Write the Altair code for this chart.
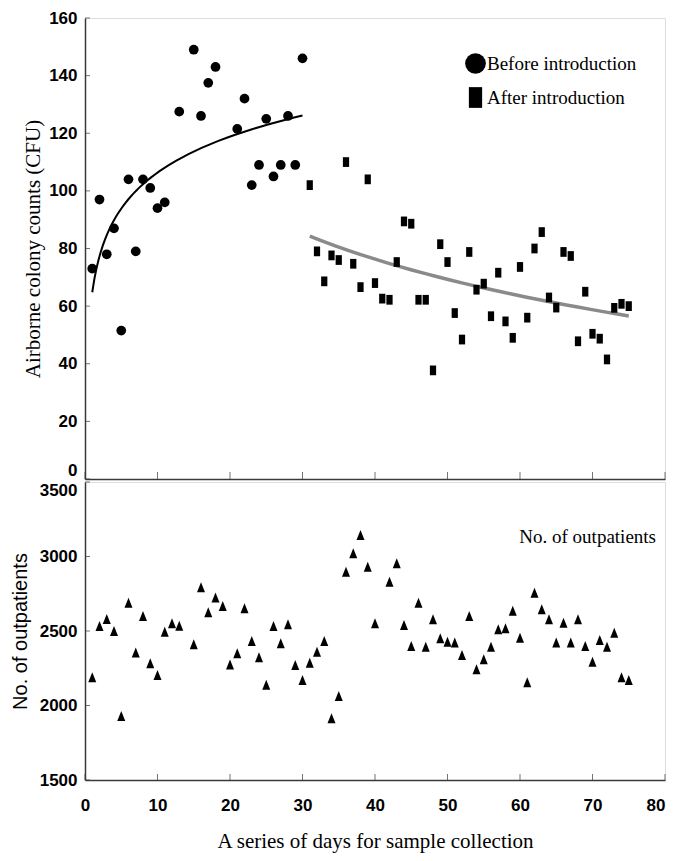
import altair as alt
import pandas as pd

# ---------------- data ----------------
BEFORE_DAYS = [1, 2, 3, 4, 5, 6, 7, 8, 9, 10, 11, 13, 15, 16, 17, 18,
               21, 22, 23, 24, 25, 26, 27, 28, 29, 30]
BEFORE_CFU = [73, 97, 78, 87, 51.5, 104, 79, 104, 101, 94, 96, 127.5, 149, 126, 137.5, 143,
              121.5, 132, 102, 109, 125, 105, 109, 126, 109, 146]

AFTER_DAYS = [31, 32, 33, 34, 35, 36, 37, 38, 39, 40, 41, 42, 43, 44, 45,
              46, 47, 48, 49, 50, 51, 52, 53, 54, 55, 56, 57, 58, 59, 60,
              61, 62, 63, 64, 65, 66, 67, 68, 69, 70, 71, 72, 73, 74, 75]
AFTER_CFU = [102, 79, 68.6, 77.6, 76, 110, 74.7, 66.6, 104, 68,
             62.6, 62.2, 75.3, 89.4, 88.6, 62.2, 62.2, 37.7, 81.5, 75.3,
             57.6, 48.4, 78.8, 65.7, 67.8, 56.5, 71.6, 54.7, 49, 73.6,
             56, 80, 85.7, 63, 59.5, 78.8, 77.4, 47.8, 65, 50.4,
             48.7, 41.5, 59.4, 60.8, 60]

OUT_DAYS = [1, 2, 3, 4, 5, 6, 7, 8, 9, 10, 11, 12, 13,
            15, 16, 17, 18, 19, 20, 21, 22, 23, 24, 25, 26, 27, 28, 29, 30,
            31, 32, 33, 34, 35, 36, 37, 38, 39, 40,
            42, 43, 44, 45, 46, 47, 48, 49, 50, 51, 52, 53, 54, 55, 56, 57, 58,
            59, 60, 61, 62, 63, 64, 65, 66, 67, 68, 69, 70, 71, 72, 73, 74, 75]
OUT_VALUES = [2190, 2534, 2581, 2500, 1930, 2690, 2355, 2601, 2283, 2205, 2495, 2552, 2536,
              2411, 2793, 2626, 2724, 2668, 2276, 2350, 2652, 2433, 2324, 2140, 2534, 2417, 2545, 2272, 2171,
              2287, 2361, 2433, 1914, 2064, 2898, 3021, 3144, 2932, 2552,
              2831, 2954, 2540, 2399, 2690, 2395, 2579, 2451, 2428, 2422, 2339, 2601, 2243, 2310, 2395, 2511, 2518,
              2636, 2455, 2156, 2757, 2646, 2579, 2422, 2556, 2422, 2579, 2399, 2294, 2440, 2395, 2489, 2189, 2171]

X_TICKS = [0, 10, 20, 30, 40, 50, 60, 70, 80]
CFU_TICKS = [0, 20, 40, 60, 80, 100, 120, 140, 160]
OUT_TICKS = [1500, 2000, 2500, 3000, 3500]

PERIODS = ["Before introduction", "After introduction"]

# ---------------- styling ----------------
W, H1, H2 = 580, 461, 298
TICK_FONT = "Liberation Sans, Arial, sans-serif"
SERIF = "Liberation Serif, Times New Roman, serif"
SANS = "Liberation Sans, Arial, sans-serif"
AX = "#3a3a3a"

RECT = "M-0.64,-1 L0.64,-1 L0.64,1 L-0.64,1 Z"
TRI = "M0,-1 L0.8,1 L-0.8,1 Z"

top_df = pd.DataFrame({
    "day": BEFORE_DAYS + AFTER_DAYS,
    "cfu": BEFORE_CFU + AFTER_CFU,
    "period": [PERIODS[0]] * len(BEFORE_DAYS) + [PERIODS[1]] * len(AFTER_DAYS),
})
out_df = pd.DataFrame({"day": OUT_DAYS, "n": OUT_VALUES})

x_scale = alt.Scale(domain=[0, 80], nice=False, zero=False)
cfu_scale = alt.Scale(domain=[0, 160], nice=False)
out_scale = alt.Scale(domain=[1500, 3500], nice=False, zero=False)

x_axis_top = alt.Axis(values=X_TICKS, labels=False, ticks=False, title=None, grid=False,
                      domainColor=AX, domainWidth=1.5)
x_axis_bot = alt.Axis(values=X_TICKS, ticks=False, grid=False, labelFlush=False, format="d",
                      title="A series of days for sample collection",
                      labelFont=TICK_FONT, labelFontWeight="bold", labelFontSize=17,
                      labelColor="black", labelPadding=17,
                      labelAlign={"condition": {"test": "datum.value === 80", "value": "right"},
                                  "value": "center"},
                      titleFont=SERIF, titleFontSize=21, titleFontWeight="normal",
                      titleColor="black", titlePadding=17,
                      domainColor=AX, domainWidth=1.5)
y_axis_top = alt.Axis(values=CFU_TICKS, ticks=False, grid=False, labelFlush=False, format="d",
                      title="Airborne colony counts (CFU)",
                      labelFont=TICK_FONT, labelFontWeight="bold", labelFontSize=17,
                      labelColor="black", labelPadding=8,
                      labelBaseline={"condition": {"test": "datum.value === 0", "value": "bottom"},
                                     "value": "middle"},
                      titleFont=SERIF, titleFontSize=21, titleFontWeight="normal",
                      titleColor="black", titlePadding=5,
                      domainColor=AX, domainWidth=1.5)
y_axis_bot = alt.Axis(values=OUT_TICKS, ticks=False, grid=False, labelFlush=False, format="d",
                      title="No. of outpatients",
                      labelFont=TICK_FONT, labelFontWeight="bold", labelFontSize=17,
                      labelColor="black", labelPadding=8,
                      labelBaseline={"condition": {"test": "datum.value === 3500", "value": "top"},
                                     "value": "middle"},
                      titleFont=SANS, titleFontSize=20, titleFontWeight="normal",
                      titleColor="black", titlePadding=9,
                      domainColor=AX, domainWidth=1.5)

# ---------------- top panel ----------------
pts_top = alt.Chart(top_df).mark_point(filled=True, size=95, opacity=1, color="black").encode(
    x=alt.X("day:Q", scale=x_scale, axis=x_axis_top),
    y=alt.Y("cfu:Q", scale=cfu_scale, axis=y_axis_top),
    shape=alt.Shape("period:N",
                    scale=alt.Scale(domain=PERIODS, range=["circle", RECT]),
                    legend=alt.Legend(orient="none", legendX=380, legendY=35, title=None,
                                      symbolSize=430, symbolFillColor="black",
                                      symbolStrokeWidth=0, labelFont=SERIF,
                                      labelFontSize=19, labelColor="black",
                                      labelOffset=1, rowPadding=13)),
)

trend_before = alt.Chart(top_df).transform_filter(
    alt.datum.period == PERIODS[0]
).transform_regression("day", "cfu", method="log").mark_line(
    color="black", strokeWidth=2
).encode(x=alt.X("day:Q", scale=x_scale, axis=x_axis_top),
         y=alt.Y("cfu:Q", scale=cfu_scale, axis=y_axis_top))

trend_after = alt.Chart(top_df).transform_filter(
    alt.datum.period == PERIODS[1]
).transform_regression("day", "cfu", method="log").mark_line(
    color="#8a8a8a", strokeWidth=3.5
).encode(x=alt.X("day:Q", scale=x_scale, axis=x_axis_top),
         y=alt.Y("cfu:Q", scale=cfu_scale, axis=y_axis_top))

yt_top = alt.Chart(pd.DataFrame({"cfu": CFU_TICKS})).mark_tick(
    orient="horizontal", size=5, thickness=1, color=AX
).encode(y=alt.Y("cfu:Q", scale=cfu_scale, axis=y_axis_top), x=alt.value(2.5))

xt_top = alt.Chart(pd.DataFrame({"day": X_TICKS})).mark_tick(
    orient="vertical", size=7, thickness=1, color=AX
).encode(x=alt.X("day:Q", scale=x_scale, axis=x_axis_top), y=alt.value(H1 - 3.5))

top = alt.layer(trend_before, trend_after, pts_top, yt_top, xt_top).properties(width=W, height=H1)

# ---------------- bottom panel ----------------
pts_bot = alt.Chart(out_df).mark_point(filled=True, size=100, opacity=1, color="black", shape=TRI).encode(
    x=alt.X("day:Q", scale=x_scale, axis=x_axis_bot),
    y=alt.Y("n:Q", scale=out_scale, axis=y_axis_bot),
)

yt_bot = alt.Chart(pd.DataFrame({"n": OUT_TICKS})).mark_tick(
    orient="horizontal", size=5, thickness=1, color=AX
).encode(y=alt.Y("n:Q", scale=out_scale, axis=y_axis_bot), x=alt.value(2.5))

xt_bot = alt.Chart(pd.DataFrame({"day": X_TICKS})).mark_tick(
    orient="vertical", size=6, thickness=1, color=AX
).encode(x=alt.X("day:Q", scale=x_scale, axis=x_axis_bot), y=alt.value(H2 - 3))

note = alt.Chart(pd.DataFrame({"t": ["No. of outpatients"]})).mark_text(
    align="right", baseline="middle", font=SERIF, fontSize=19, color="black"
).encode(text="t:N", x=alt.value(571), y=alt.value(55))

bottom = alt.layer(pts_bot, yt_bot, xt_bot, note).properties(width=W, height=H2)

chart = alt.vconcat(top, bottom, spacing=0).properties(
    padding={"left": 1, "top": 0, "right": 0, "bottom": 1}
).configure_view(
    stroke="#a6a6a6", strokeWidth=1
).configure(background="white")

chart.save("out.html", embed_options={"renderer": "svg", "actions": False})
